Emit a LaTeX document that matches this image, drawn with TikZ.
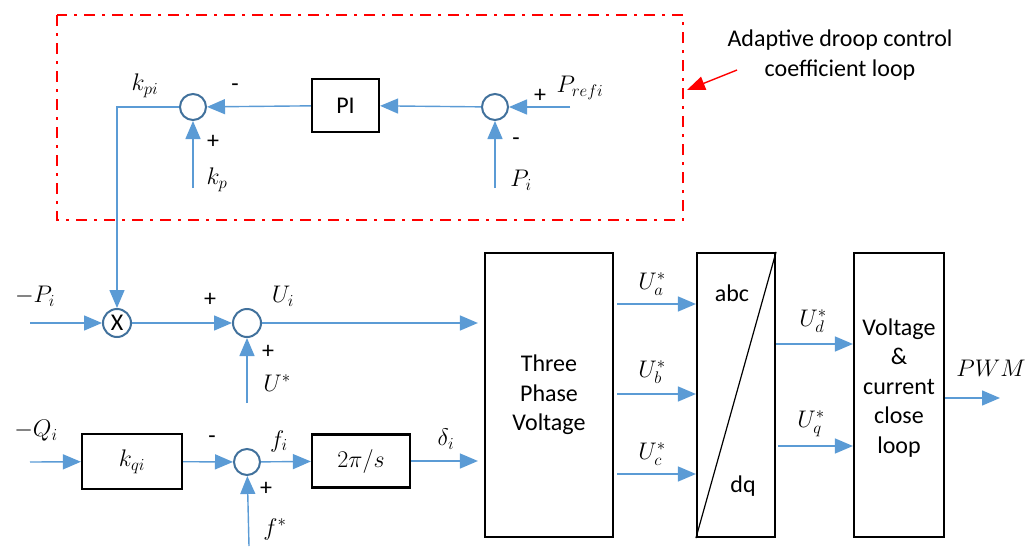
\RequirePackage{fix-cm}
\documentclass[tikz,border=0pt]{standalone}
\usepackage{fontspec}
\setmainfont{Carlito}
\usetikzlibrary{arrows.meta}
\definecolor{lineblue}{RGB}{91,155,213}
\definecolor{circblue}{RGB}{65,113,156}
\definecolor{dashred}{RGB}{255,0,0}
\begin{document}
\begin{tikzpicture}[x=1pt,y=-1pt,
  conn/.style={draw=lineblue,line width=1.4pt},
  arr/.style={conn,-{Triangle[length=18pt,width=15pt]}},
  sumc/.style={circle,draw=circblue,line width=2pt,minimum size=26pt,inner sep=0pt},
  blk/.style={draw=black,line width=2.2pt,inner sep=0pt,align=center},
  txt/.style={font=\fontsize{24}{29.5}\selectfont},
  sgn/.style={font=\fontsize{24}{24}\selectfont},
  ml/.style={font=\fontsize{24}{28}\selectfont},
]
\useasboundingbox (0,0) rectangle (1030,546);

% red dash-dot frame and note
\draw[dashred,line width=2.5pt,dash pattern=on 11pt off 7pt on 3pt off 7pt] (57,15) rectangle (683,220);
\node[txt,align=center] (note) at (840,55) {Adaptive droop control\\coefficient loop};
\coordinate (notetail) at (737,70);
\coordinate (notetip) at (687,90);
\draw[dashred,line width=1.4pt,-{Triangle[length=18pt,width=14pt]}] (notetail) -- (notetip);

% top loop
\node[sumc] (s1) at (193,107) {};
\node[blk,txt,minimum width=67pt,minimum height=53pt] (pi) at (345.5,105.5) {PI};
\node[sumc] (s2) at (495,107) {};
\coordinate (prefin) at (570,107);
\coordinate (piin) at (495,188);
\coordinate (kpin) at (193,188);
\coordinate (corner) at (117,107);
\draw[arr] (prefin) -- (s2);
\draw[arr] (piin) -- (s2);
\draw[arr] (s2) -- (pi);
\draw[arr] (pi) -- (s1);
\draw[arr] (kpin) -- (s1);

\node[ml] (lkpi) at (145,86) {$k_{pi}$};
\node[sgn] (m1) at (235,88) {-};
\node[sgn] (p1) at (213,142) {+};
\node[ml] (lkp) at (217,180) {$k_p$};
\node[sgn] (p2) at (540,96) {+};
\node[ml] (lpref) at (580,88) {$P_{refi}$};
\node[sgn] (m2) at (516,142) {-};
\node[ml] (lpi) at (521,180) {$P_i$};

% middle row
\node[sumc,minimum size=28pt] (xm) at (117,323) {\fontsize{24}{24}\selectfont X};
\node[sumc,minimum size=28pt] (s3) at (247,323) {};
\coordinate (pin) at (30,323);
\coordinate (ustar) at (247,403);
\draw[arr] (s1) -- (corner) -- (xm);
\draw[arr] (pin) -- (xm);
\draw[arr] (xm) -- (s3);
\draw[arr] (ustar) -- (s3);

\node[ml] (lmpi) at (35,296) {$-P_i$};
\node[sgn] (p3) at (210,300) {+};
\node[ml] (lui) at (283,296) {$U_i$};
\node[sgn] (p4) at (268,352) {+};
\node[ml] (lus) at (277,383) {$U^*$};

% bottom row
\coordinate (qin) at (30,462);
\node[blk,ml,minimum width=100pt,minimum height=55pt] (kqi) at (132,461.5) {$k_{qi}$};
\node[sumc] (s4) at (247,462) {};
\node[blk,ml,minimum width=98pt,minimum height=53pt] (tps) at (361,461) {$2\pi/s$};
\coordinate (fstar) at (249,546);
\draw[arr] (qin) -- (kqi);
\draw[arr] (kqi) -- (s4);
\draw[arr] (fstar) -- (s4);
\draw[arr] (s4) -- (tps);

\node[ml] (lmqi) at (36,431) {$-Q_i$};
\node[sgn] (m3) at (212,440) {-};
\node[ml] (lfi) at (279,441) {$f_i$};
\node[ml] (ldi) at (446,439) {$\delta_i$};
\node[sgn] (p5) at (266,489) {+};
\node[ml] (lfs) at (275,529) {$f^*$};

% right blocks
\node[blk,txt,minimum width=128pt,minimum height=284pt] (tp) at (549,395) {Three\\Phase\\Voltage};
\node[blk,minimum width=78pt,minimum height=284pt] (abc) at (736,395) {};
\draw[line width=1.2pt] (abc.south west) -- (abc.north east);
\node[txt] (labc) at (732,293) {abc};
\node[txt] (ldq) at (743,486) {dq};
\node[blk,txt,minimum width=90pt,minimum height=284pt] (vc) at (899,395) {};
\node[txt,align=center] (vctext) at (899,388) {Voltage\\\&\\current\\close\\loop};

\draw[arr,shorten >=6pt] (s3) -- (s3 -| tp.west);
\draw[arr,shorten >=6pt] (tps) -- (tps -| tp.west);

\coordinate (ua) at (617,304);
\coordinate (ub) at (617,394);
\coordinate (uc) at (617,474);
\draw[arr] (ua) -- (ua -| abc.west);
\draw[arr] (ub) -- (ub -| abc.west);
\draw[arr] (uc) -- (uc -| abc.west);
\node[ml] (lua) at (652,284) {$U_a^*$};
\node[ml] (lub) at (652,372) {$U_b^*$};
\node[ml] (luc) at (652,454) {$U_c^*$};

\coordinate (ud) at (776,344);
\coordinate (uq) at (778,446);
\draw[arr] (ud) -- (ud -| vc.west);
\draw[arr] (uq) -- (uq -| vc.west);
\node[ml] (lud) at (813,321) {$U_d^*$};
\node[ml] (luq) at (811,424) {$U_q^*$};

\coordinate (pwm) at (1000,398);
\draw[arr] (vc.east |- pwm) -- (pwm);
\node[ml] (lpwm) at (991,368) {$PWM$};
\end{tikzpicture}
\end{document}
